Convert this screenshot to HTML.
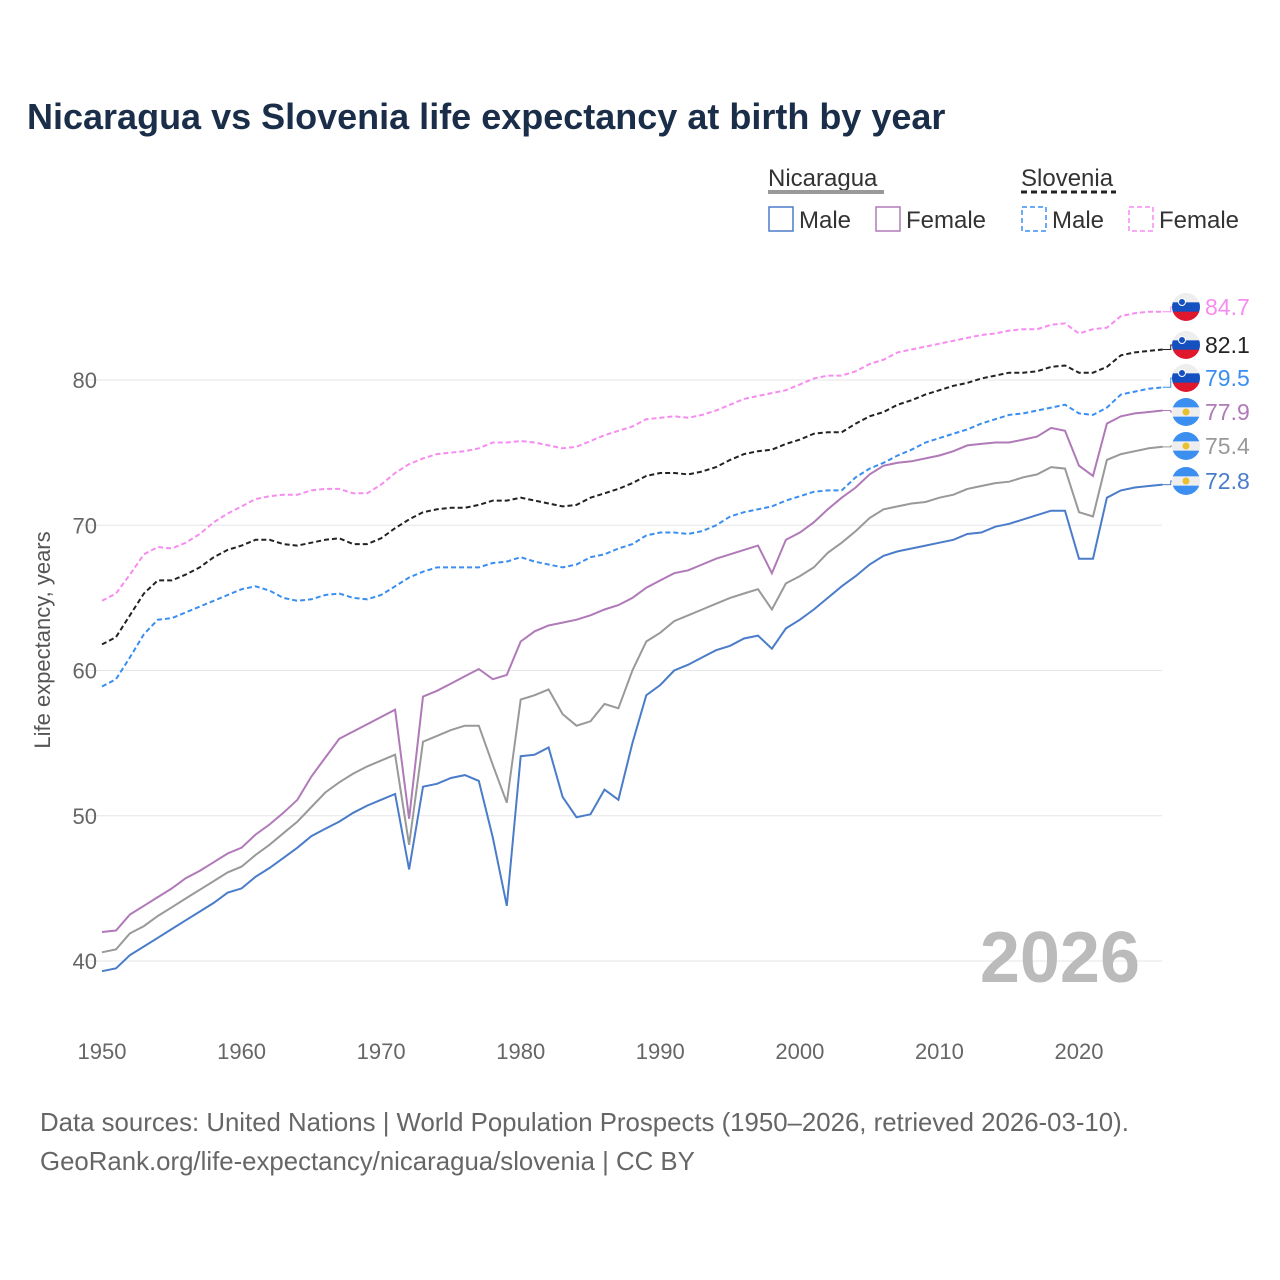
<!DOCTYPE html>
<html><head><meta charset="utf-8">
<style>
body{margin:0;background:#fff;}
svg{display:block;font-family:"Liberation Sans",sans-serif;}
</style></head>
<body>
<svg id="chart" width="1280" height="1280" viewBox="0 0 1280 1280">
<text x="27" y="129" font-size="36" font-weight="bold" fill="#1a2e4a">Nicaragua vs Slovenia life expectancy at birth by year</text>
<g>
<text x="768" y="186" font-size="24" fill="#333">Nicaragua</text>
<line x1="768" y1="192" x2="884" y2="192" stroke="#999" stroke-width="4"/>
<text x="1021" y="186" font-size="24" fill="#333">Slovenia</text>
<line x1="1021" y1="192" x2="1116" y2="192" stroke="#222" stroke-width="3" stroke-dasharray="6,4"/>
<rect x="769" y="207" width="24" height="24" fill="none" stroke="#4a7cc9" stroke-width="1.5"/>
<text x="799" y="228" font-size="24" fill="#333">Male</text>
<rect x="876" y="207" width="24" height="24" fill="none" stroke="#b07ab8" stroke-width="1.5"/>
<text x="906" y="228" font-size="24" fill="#333">Female</text>
<rect x="1022" y="207" width="24" height="24" fill="none" stroke="#3a8ef0" stroke-width="1.5" stroke-dasharray="5,3"/>
<text x="1052" y="228" font-size="24" fill="#333">Male</text>
<rect x="1129" y="207" width="24" height="24" fill="none" stroke="#f78cf0" stroke-width="1.5" stroke-dasharray="5,3"/>
<text x="1159" y="228" font-size="24" fill="#333">Female</text>
</g>
<g id="grid"></g>
<text x="1140" y="982" font-size="72" font-weight="bold" fill="#bbb" text-anchor="end">2026</text>
<text transform="translate(50,640) rotate(-90)" font-size="22" fill="#555" text-anchor="middle">Life expectancy, years</text>
<g id="series"></g>
<g id="labels"></g>
<text x="40" y="1131" font-size="25.8" fill="#666">Data sources: United Nations | World Population Prospects (1950–2026, retrieved 2026-03-10).</text>
<text x="40" y="1170" font-size="25.8" fill="#666">GeoRank.org/life-expectancy/nicaragua/slovenia | CC BY</text>
</svg>
<script>
const startYear = 1950;
const yTicks = [40, 50, 60, 70, 80];
const xTicks = [1950, 1960, 1970, 1980, 1990, 2000, 2010, 2020];
const nicMale = [39.3,39.5,40.4,41.0,41.6,42.2,42.8,43.4,44.0,44.7,45.0,45.8,46.4,47.1,47.8,48.6,49.1,49.6,50.2,50.7,51.1,51.5,46.3,52.0,52.2,52.6,52.8,52.4,48.5,43.8,54.1,54.2,54.7,51.3,49.9,50.1,51.8,51.1,55.0,58.3,59.0,60.0,60.4,60.9,61.4,61.7,62.2,62.4,61.5,62.9,63.5,64.2,65.0,65.8,66.5,67.3,67.9,68.2,68.4,68.6,68.8,69.0,69.4,69.5,69.9,70.1,70.4,70.7,71.0,71.0,67.7,67.7,71.9,72.4,72.6,72.7,72.8];
const nicTotal = [40.6,40.8,41.9,42.4,43.1,43.7,44.3,44.9,45.5,46.1,46.5,47.3,48.0,48.8,49.6,50.6,51.6,52.3,52.9,53.4,53.8,54.2,48.0,55.1,55.5,55.9,56.2,56.2,53.5,50.9,58.0,58.3,58.7,57.0,56.2,56.5,57.7,57.4,60.0,62.0,62.6,63.4,63.8,64.2,64.6,65.0,65.3,65.6,64.2,66.0,66.5,67.1,68.1,68.8,69.6,70.5,71.1,71.3,71.5,71.6,71.9,72.1,72.5,72.7,72.9,73.0,73.3,73.5,74.0,73.9,70.9,70.6,74.5,74.9,75.1,75.3,75.4];
const nicFemale = [42.0,42.1,43.2,43.8,44.4,45.0,45.7,46.2,46.8,47.4,47.8,48.7,49.4,50.2,51.1,52.7,54.0,55.3,55.8,56.3,56.8,57.3,49.8,58.2,58.6,59.1,59.6,60.1,59.4,59.7,62.0,62.7,63.1,63.3,63.5,63.8,64.2,64.5,65.0,65.7,66.2,66.7,66.9,67.3,67.7,68.0,68.3,68.6,66.7,69.0,69.5,70.2,71.1,71.9,72.6,73.5,74.1,74.3,74.4,74.6,74.8,75.1,75.5,75.6,75.7,75.7,75.9,76.1,76.7,76.5,74.1,73.4,77.0,77.5,77.7,77.8,77.9];
const svnTotal = [61.8,62.3,63.8,65.3,66.2,66.2,66.6,67.1,67.8,68.3,68.6,69.0,69.0,68.7,68.6,68.8,69.0,69.1,68.7,68.7,69.1,69.8,70.4,70.9,71.1,71.2,71.2,71.4,71.7,71.7,71.9,71.7,71.5,71.3,71.4,71.9,72.2,72.5,72.9,73.4,73.6,73.6,73.5,73.7,74.0,74.5,74.9,75.1,75.2,75.6,75.9,76.3,76.4,76.4,77.0,77.5,77.8,78.3,78.6,79.0,79.3,79.6,79.8,80.1,80.3,80.5,80.5,80.6,80.9,81.0,80.5,80.5,80.9,81.7,81.9,82.0,82.1];
const svnMale = [58.9,59.4,60.9,62.5,63.5,63.6,64.0,64.4,64.8,65.2,65.6,65.8,65.5,65.0,64.8,64.9,65.2,65.3,65.0,64.9,65.2,65.8,66.4,66.8,67.1,67.1,67.1,67.1,67.4,67.5,67.8,67.5,67.3,67.1,67.3,67.8,68.0,68.4,68.7,69.3,69.5,69.5,69.4,69.6,70.0,70.6,70.9,71.1,71.3,71.7,72.0,72.3,72.4,72.4,73.3,73.9,74.3,74.8,75.2,75.7,76.0,76.3,76.6,77.0,77.3,77.6,77.7,77.9,78.1,78.3,77.7,77.6,78.1,79.0,79.2,79.4,79.5];
const svnFemale = [64.8,65.3,66.6,68.0,68.5,68.4,68.8,69.4,70.2,70.8,71.3,71.8,72.0,72.1,72.1,72.4,72.5,72.5,72.2,72.2,72.8,73.6,74.2,74.6,74.9,75.0,75.1,75.3,75.7,75.7,75.8,75.7,75.5,75.3,75.4,75.8,76.2,76.5,76.8,77.3,77.4,77.5,77.4,77.6,77.9,78.3,78.7,78.9,79.1,79.3,79.7,80.1,80.3,80.3,80.6,81.1,81.4,81.9,82.1,82.3,82.5,82.7,82.9,83.1,83.2,83.4,83.5,83.5,83.8,83.9,83.2,83.5,83.6,84.4,84.6,84.7,84.7];

const NS = 'http://www.w3.org/2000/svg';
const xS = yr => 102 + (yr - 1950) * (1079 - 102) / 70;
const yS = v => 380 + (80 - v) * (961 - 380) / 40;

const grid = document.getElementById('grid');
yTicks.forEach(t => {
  const l = document.createElementNS(NS, 'line');
  l.setAttribute('x1', 80); l.setAttribute('x2', 1162);
  l.setAttribute('y1', yS(t)); l.setAttribute('y2', yS(t));
  l.setAttribute('stroke', '#e6e6e6'); l.setAttribute('stroke-width', 1);
  
  
  grid.appendChild(l);
  const tx = document.createElementNS(NS, 'text');
  tx.setAttribute('x', 97); tx.setAttribute('y', yS(t) + 8);
  tx.setAttribute('text-anchor', 'end'); tx.setAttribute('font-size', 22); tx.setAttribute('fill', '#666');
  tx.textContent = t;
  
  
  grid.appendChild(tx);
});
xTicks.forEach(t => {
  const tx = document.createElementNS(NS, 'text');
  tx.setAttribute('x', xS(t)); tx.setAttribute('y', 1059);
  tx.setAttribute('text-anchor', 'middle'); tx.setAttribute('font-size', 22); tx.setAttribute('fill', '#666');
  tx.textContent = t;
  
  
  grid.appendChild(tx);
});

const seriesG = document.getElementById('series');
const labelsG = document.getElementById('labels');
const defs = [
  {d: svnFemale, c: '#f78cf0', dash: '5,3', n: 'slovenia-female', flag: 'svn', ly: 307},
  {d: svnTotal, c: '#222222', dash: '5,3', n: 'slovenia-total', flag: 'svn', ly: 345},
  {d: svnMale, c: '#3a8ef0', dash: '5,3', n: 'slovenia-male', flag: 'svn', ly: 378},
  {d: nicFemale, c: '#b07ab8', dash: null, n: 'nicaragua-female', flag: 'nic', ly: 412},
  {d: nicTotal, c: '#999999', dash: null, n: 'nicaragua-total', flag: 'nic', ly: 446},
  {d: nicMale, c: '#4a7cc9', dash: null, n: 'nicaragua-male', flag: 'nic', ly: 481}
];
defs.forEach(s => {
  const pts = s.d.map((v, i) => xS(startYear + i).toFixed(1) + ',' + yS(v).toFixed(1)).join(' ');
  const p = document.createElementNS(NS, 'polyline');
  p.setAttribute('points', pts);
  p.setAttribute('fill', 'none'); p.setAttribute('stroke', s.c); p.setAttribute('stroke-width', 2);
  if (s.dash) p.setAttribute('stroke-dasharray', s.dash);
  
  
  seriesG.appendChild(p);
  const last = s.d[s.d.length - 1];
  const lx = xS(startYear + s.d.length - 1);
  const conn = document.createElementNS(NS, 'polyline');
  conn.setAttribute('points', lx + ',' + yS(last) + ' ' + (lx + 8) + ',' + yS(last) + ' ' + (lx + 8) + ',' + s.ly + ' ' + 1172 + ',' + s.ly);
  conn.setAttribute('fill', 'none'); conn.setAttribute('stroke', s.c); conn.setAttribute('stroke-width', 1);
  
  
  labelsG.appendChild(conn);
  const g = document.createElementNS(NS, 'g');
  
  
  const cx = 1186, cy = s.ly, r = 14;
  const base = document.createElementNS(NS, 'circle');
  base.setAttribute('cx', cx); base.setAttribute('cy', cy); base.setAttribute('r', r); base.setAttribute('fill', '#eeeeee');
  g.appendChild(base);
  const bands = s.flag === 'svn' ? ['#eeeeee', '#1550c0', '#e0182d'] : ['#3b8ff0', '#eeeeee', '#3b8ff0'];
  const id = 'clip' + s.n;
  const cp = document.createElementNS(NS, 'clipPath'); cp.setAttribute('id', id);
  const cc = document.createElementNS(NS, 'circle'); cc.setAttribute('cx', cx); cc.setAttribute('cy', cy); cc.setAttribute('r', r);
  cp.appendChild(cc); g.appendChild(cp);
  bands.forEach((b, i) => {
    const rc = document.createElementNS(NS, 'rect');
    rc.setAttribute('x', cx - r); rc.setAttribute('y', cy - r + i * 2 * r / 3);
    rc.setAttribute('width', 2 * r); rc.setAttribute('height', 2 * r / 3 + 0.5);
    rc.setAttribute('fill', b); rc.setAttribute('clip-path', 'url(#' + id + ')');
    g.appendChild(rc);
  });
  const em = document.createElementNS(NS, 'circle');
  if (s.flag === 'svn') { em.setAttribute('cx', cx - 4); em.setAttribute('cy', cy - 5); em.setAttribute('r', 3.5); em.setAttribute('fill', '#1550c0'); em.setAttribute('stroke', '#fff'); em.setAttribute('stroke-width', 1); }
  else { em.setAttribute('cx', cx); em.setAttribute('cy', cy); em.setAttribute('r', 3.5); em.setAttribute('fill', '#e8c030'); }
  g.appendChild(em);
  labelsG.appendChild(g);
  const t = document.createElementNS(NS, 'text');
  t.setAttribute('x', 1205); t.setAttribute('y', s.ly + 8);
  t.setAttribute('font-size', 23); t.setAttribute('fill', s.c);
  t.textContent = last.toFixed(1);
  
  
  labelsG.appendChild(t);
});
</script>
</body></html>
